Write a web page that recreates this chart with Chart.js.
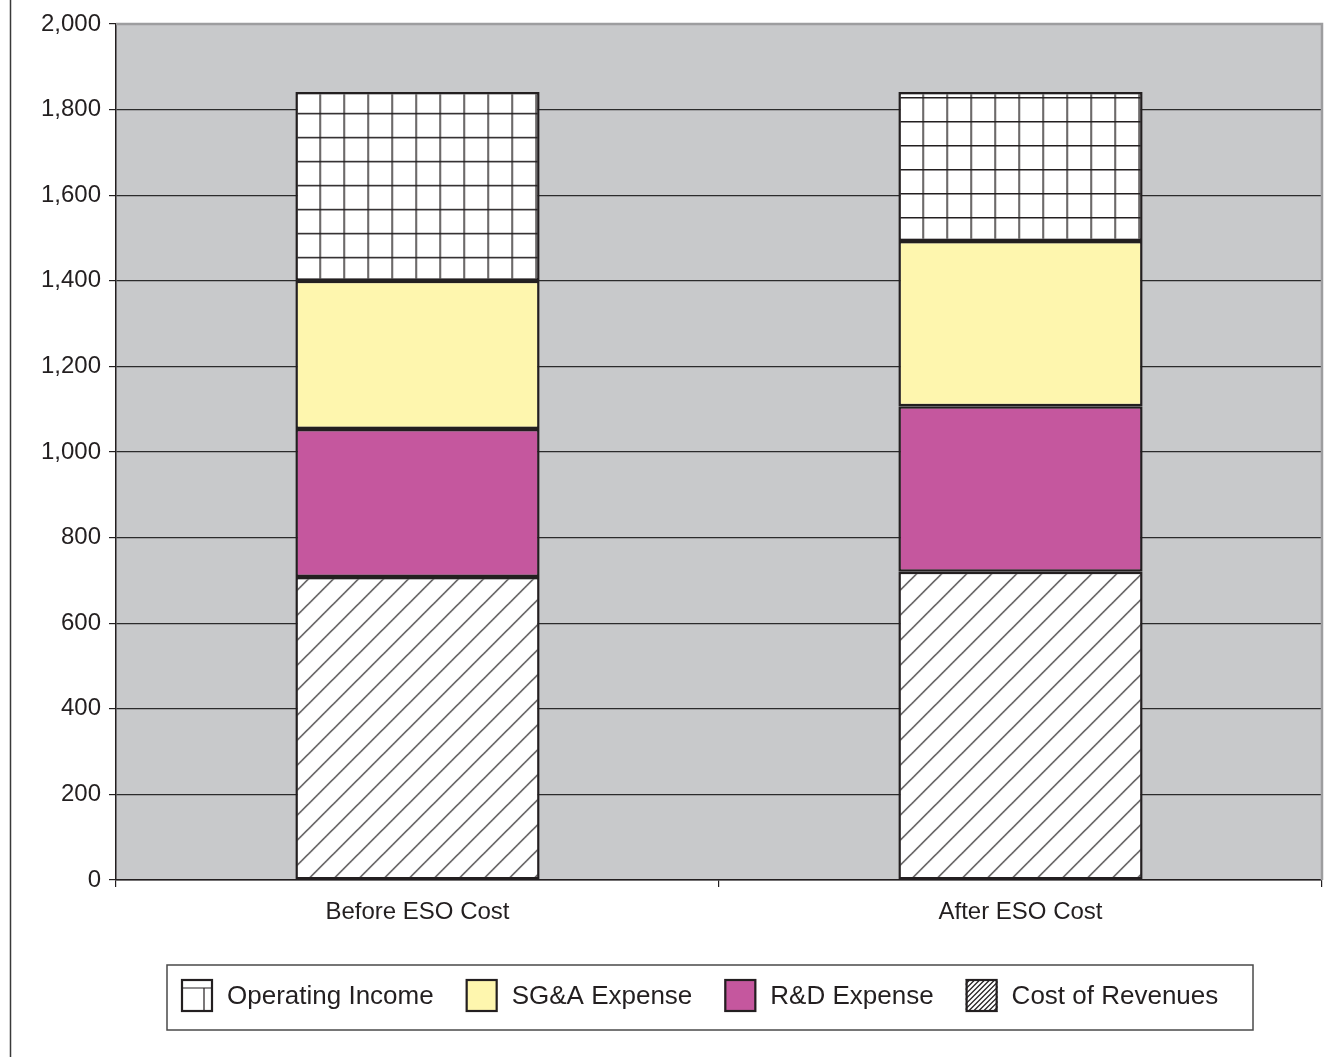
<!DOCTYPE html>
<html>
<head>
<meta charset="utf-8">
<script src="https://cdn.jsdelivr.net/npm/chart.js@4.4.0/dist/chart.umd.min.js"></script>
<style>
html,body{margin:0;padding:0;background:#fff;}
</style>
</head>
<body>
<canvas id="myChart" width="1341" height="1057"></canvas>
<script>
// values (stack bottom -> top)
const categories = ["Before ESO Cost", "After ESO Cost"];
const costOfRevenues = [708, 720];
const rdExpense = [346, 387];
const sgaExpense = [346, 386];
const operatingIncome = [441, 348];
const yMin = 0, yMax = 2000, yStep = 200;

const ink = '#231f20';
const fontName = '"Liberation Sans", Arial, sans-serif';
const barPct = 0.405;

// pattern tiles
function gridTile() {
  let c = document.createElement('canvas'); c.width = 24; c.height = 24;
  let g = c.getContext('2d');
  g.fillStyle = '#fff'; g.fillRect(0, 0, 24, 24);
  g.strokeStyle = ink; g.lineWidth = 1.4;
  g.beginPath();
  g.moveTo(0.7, 0); g.lineTo(0.7, 24);
  g.moveTo(0, 0.7); g.lineTo(24, 0.7);
  g.stroke();
  return c;
}
function hatchTile(s) {
  let c = document.createElement('canvas'); c.width = s; c.height = s;
  let g = c.getContext('2d');
  g.fillStyle = '#fff'; g.fillRect(0, 0, s, s);
  g.strokeStyle = ink; g.lineWidth = 1.2;
  g.beginPath();
  g.moveTo(-2, s + 2); g.lineTo(s + 2, -2);
  g.moveTo(-2, 2); g.lineTo(2, -2);
  g.moveTo(s - 2, s + 2); g.lineTo(s + 2, s - 2);
  g.stroke();
  return c;
}
const gridCanvas = gridTile();
const hatchCanvas = hatchTile(25);

function barBox(chart, i, base) {
  let x = chart.scales.x, y = chart.scales.y;
  let w = (x.right - x.left) / categories.length * barPct;
  return { left: x.getPixelForValue(i) - w / 2, bottom: y.getPixelForValue(base) };
}

function gridFill(ctx) {
  let chart = ctx.chart;
  if (!chart.scales.x || ctx.type !== 'data') return '#fff';
  let i = ctx.dataIndex;
  let b = barBox(chart, i, costOfRevenues[i] + rdExpense[i] + sgaExpense[i]);
  let p = chart.ctx.createPattern(gridCanvas, 'repeat');
  p.setTransform(new DOMMatrix().translate(b.left, b.bottom));
  return p;
}
function hatchFill(ctx) {
  let chart = ctx.chart;
  if (!chart.scales.x || ctx.type !== 'data') return '#fff';
  let b = barBox(chart, ctx.dataIndex, 0);
  let p = chart.ctx.createPattern(hatchCanvas, 'repeat');
  p.setTransform(new DOMMatrix().translate(b.left + 12, b.bottom));
  return p;
}

const plotBack = {
  id: 'plotBack',
  beforeDraw(chart) {
    let a = chart.chartArea, c = chart.ctx;
    c.save();
    c.fillStyle = '#c8c9cb';
    c.fillRect(a.left, a.top, a.right - a.left, a.bottom - a.top);
    c.restore();
  },
  beforeDatasetsDraw(chart) {
    let a = chart.chartArea, c = chart.ctx;
    c.save();
    c.strokeStyle = '#9d9d9f'; c.lineWidth = 2.5;
    c.beginPath();
    c.moveTo(a.left, a.top); c.lineTo(a.right, a.top); c.lineTo(a.right, a.bottom);
    c.stroke();
    c.restore();
  }
};

// legend drawn by hand: box + icons + labels
const boxLegend = {
  id: 'boxLegend',
  afterDraw(chart) {
    let c = chart.ctx;
    c.save();
    // outer frame line on the left edge
    c.strokeStyle = '#3a3a3a'; c.lineWidth = 1.5;
    c.beginPath(); c.moveTo(10.5, 0); c.lineTo(10.5, 1057); c.stroke();

    c.strokeStyle = '#4a4a4a'; c.lineWidth = 1.5;
    c.strokeRect(167, 965, 1086, 65);

    c.font = '26px ' + fontName;
    c.textBaseline = 'middle';
    c.fillStyle = ink;
    let x = 181, top = 979, sz = 32, h = 33;
    let items = chart.data.datasets.slice().reverse();
    items.forEach(ds => {
      c.save();
      c.beginPath(); c.rect(x, top, sz, h); c.clip();
      if (ds.legendKind === 'grid') {
        c.fillStyle = '#fff'; c.fillRect(x, top, sz, h);
        c.strokeStyle = ink; c.lineWidth = 1.2;
        c.beginPath();
        c.moveTo(x, top + 9); c.lineTo(x + sz, top + 9);
        c.moveTo(x + 23, top + 9); c.lineTo(x + 23, top + h);
        c.stroke();
      } else if (ds.legendKind === 'hatch') {
        c.fillStyle = '#fff'; c.fillRect(x, top, sz, h);
        c.strokeStyle = ink; c.lineWidth = 1.3;
        c.beginPath();
        for (let k = -h; k < sz + h; k += 5) {
          c.moveTo(x + k, top + h); c.lineTo(x + k + h, top);
        }
        c.stroke();
      } else {
        c.fillStyle = ds.backgroundColor; c.fillRect(x, top, sz, h);
      }
      c.restore();
      c.strokeStyle = ink; c.lineWidth = 2.2;
      c.strokeRect(x + 1, top + 1, sz - 2, h - 2);
      c.fillStyle = ink;
      c.fillText(ds.label, x + sz + 14, top + h / 2 + 1);
      x += sz + 14 + c.measureText(ds.label).width + 32;
    });
    c.restore();
  }
};

const barStyle = { borderColor: ink, borderWidth: 2.5, borderSkipped: false };

new Chart(document.getElementById('myChart'), {
  type: 'bar',
  data: {
    labels: categories,
    datasets: [
      Object.assign({ label: 'Cost of Revenues', data: costOfRevenues, backgroundColor: hatchFill, legendKind: 'hatch' }, barStyle),
      Object.assign({ label: 'R&D Expense', data: rdExpense, backgroundColor: '#c5579e' }, barStyle),
      Object.assign({ label: 'SG&A Expense', data: sgaExpense, backgroundColor: '#fef6ae' }, barStyle),
      Object.assign({ label: 'Operating Income', data: operatingIncome, backgroundColor: gridFill, legendKind: 'grid' }, barStyle)
    ]
  },
  options: {
    responsive: false,
    animation: false,
    events: [],
    layout: { padding: { top: 24, right: 19, bottom: 0, left: 0 } },
    datasets: { bar: { categoryPercentage: 1, barPercentage: barPct } },
    plugins: { legend: { display: false }, tooltip: { enabled: false } },
    scales: {
      x: {
        stacked: true,
        afterFit(scale) { scale.height = 177; },
        border: { color: ink, width: 1.5 },
        grid: { offset: true, drawOnChartArea: false, drawTicks: true, tickLength: 7, color: ink, lineWidth: 1.2 },
        ticks: { color: ink, padding: 11, font: { family: fontName, size: 24 } }
      },
      y: {
        stacked: true,
        min: yMin, max: yMax,
        afterFit(scale) { scale.width = 116; },
        border: { color: ink, width: 1.5 },
        grid: {
          color: ctx => (ctx.tick && ctx.tick.value === yMax) ? 'rgba(0,0,0,0)' : '#2b2b2b',
          tickColor: ink, lineWidth: 1.2, tickLength: 7
        },
        ticks: { stepSize: yStep, color: ink, padding: 8, font: { family: fontName, size: 24 } }
      }
    }
  },
  plugins: [plotBack, boxLegend]
});
</script>
</body>
</html>
